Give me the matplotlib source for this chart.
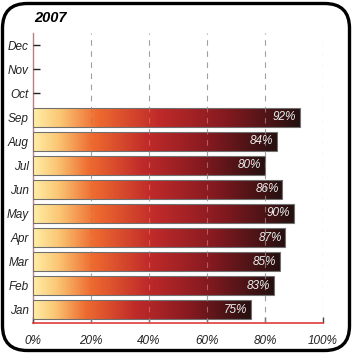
import numpy as np
import matplotlib.pyplot as plt
from matplotlib.colors import LinearSegmentedColormap
from matplotlib.patches import FancyBboxPatch, Rectangle

months = ['Jan', 'Feb', 'Mar', 'Apr', 'May', 'Jun', 'Jul', 'Aug', 'Sep', 'Oct', 'Nov', 'Dec']
values = [75, 83, 85, 87, 90, 86, 80, 84, 92]   # Jan..Sep
xticks = [0, 20, 40, 60, 80, 100]
title = '2007'

plt.rcParams['font.family'] = ['Liberation Sans', 'DejaVu Sans']

cmap = LinearSegmentedColormap.from_list('warm', [
    (0.0, '#ffeea6'), (0.1, '#fbc674'), (0.24, '#ef6b30'),
    (0.47, '#c02a2a'), (0.72, '#851a20'), (1.0, '#241010')])

fig = plt.figure(figsize=(3.53, 3.53), dpi=100)
ax = fig.add_axes([33/353, 30/353, 290/353, 290/353])

# rounded frame
frame = FancyBboxPatch((2.5/353, 2.5/353), 347/353, 347/353,
                       boxstyle='round,pad=0,rounding_size=0.07',
                       transform=fig.transFigure, fill=False,
                       edgecolor='black', linewidth=2.4, zorder=-1)
fig.patches.append(frame)

grad = np.linspace(0, 1, 256).reshape(1, -1)
h = 0.78
for i, v in enumerate(values):
    ax.imshow(grad, cmap=cmap, aspect='auto', extent=(0, v, i - h/2, i + h/2),
              zorder=2, interpolation='bilinear')
    ax.add_patch(Rectangle((0, i - h/2), v, h, fill=False,
                           edgecolor='#707070', linewidth=0.8, zorder=3))
    ax.text(v - 1.2, i, f'{v}%', ha='right', va='center', color='#eeeeee',
            fontsize=8.5, style='italic', zorder=5)

for x in xticks[1:]:
    ax.axvline(x, color='#888888', linestyle=(0, (5, 5)), linewidth=0.8,
               alpha=0.8, zorder=4)

ax.set_xlim(0, 100)
ax.set_ylim(-0.55, 11.5)
ax.set_yticks(range(len(months)))
ax.set_yticklabels(months, fontsize=8.5, style='italic', color='#222222')
ax.set_xticks(xticks)
ax.set_xticklabels([f'{x}%' for x in xticks], fontsize=8.5, style='italic',
                   color='#222222')
ax.tick_params(axis='y', direction='in', length=5, width=1, color='#222222', pad=3)
ax.tick_params(axis='x', direction='in', length=4, width=1, color='#444444', pad=9)

for s in ['top', 'right']:
    ax.spines[s].set_visible(False)
ax.spines['left'].set_color('#d77079')
ax.spines['bottom'].set_color('#e03a3a')
ax.spines['left'].set_linewidth(1.0)
ax.spines['bottom'].set_linewidth(1.2)
ax.spines['left'].set_zorder(1)
ax.patch.set_visible(False)

fig.text(34/353, 1 - 18/353, title, fontsize=10.5, fontweight='bold',
         style='italic', va='center', ha='left')

fig.savefig('out.png', dpi=100)
